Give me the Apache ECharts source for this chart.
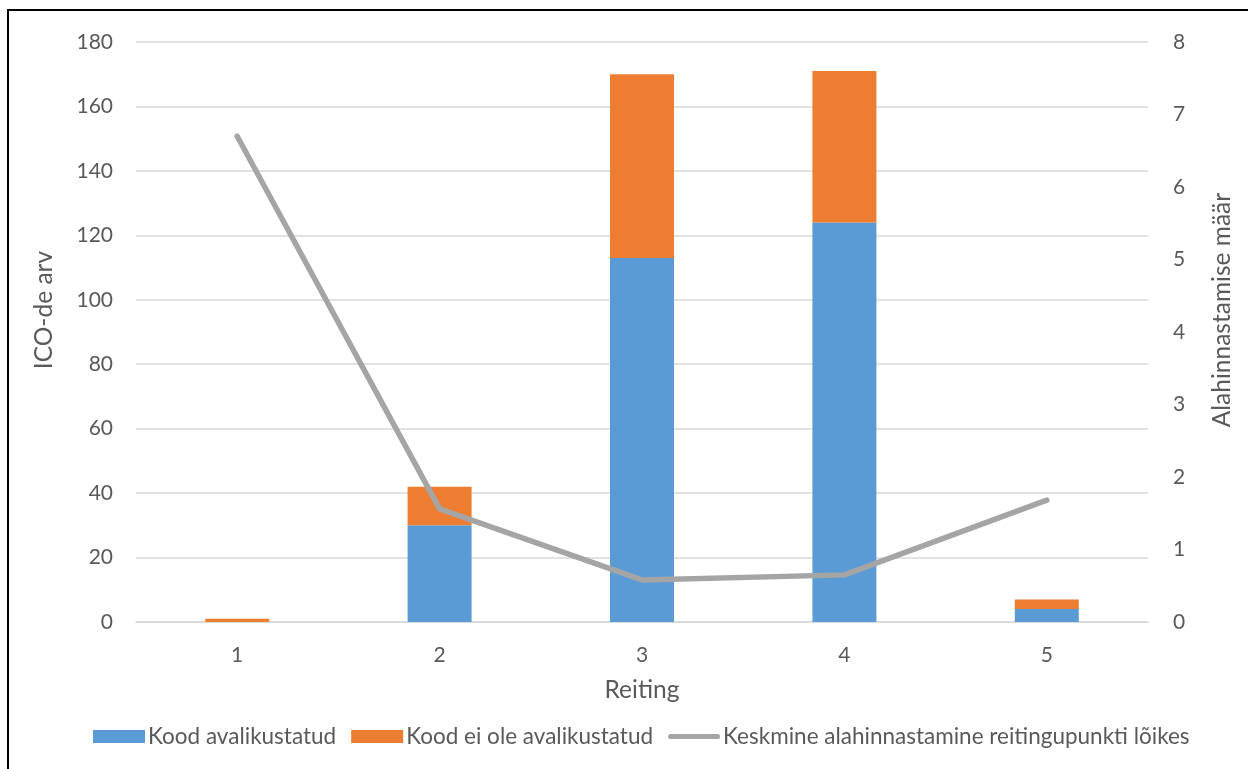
<!DOCTYPE html>
<html>
<head>
<meta charset="utf-8">
<script src="https://cdn.jsdelivr.net/npm/echarts@6/dist/echarts.min.js"></script>
<style>
  html, body { margin: 0; padding: 0; background: #fff; }
  #chart { width: 1248px; height: 769px; }
</style>
</head>
<body>
<div id="chart"></div>
<script>
// Ratings and counts of ICOs per rating
const categories = ['1', '2', '3', '4', '5'];
const codePublished = [0, 30, 113, 124, 4];
const codeNotPublished = [1, 12, 57, 47, 3];
const avgUnderpricing = [6.70, 1.56, 0.58, 0.65, 1.68];

const leftTicks = { min: 0, max: 180, interval: 20 };
const rightTicks = { min: 0, max: 8, interval: 1 };

const FONT = 'Lato, "Open Sans", sans-serif';
const TEXT = '#595959';
const GRID = '#D9D9D9';
const LINE = '#A5A5A5';

// thick rounded bar used as the legend marker of the line series
const lineIcon = 'path://M0,0 M52,13 M2.5,4 L49.5,4 A2.5,2.5 0 0 1 49.5,9 L2.5,9 A2.5,2.5 0 0 1 2.5,4 Z';

const chart = echarts.init(document.getElementById('chart'), null, { renderer: 'canvas' });

chart.setOption({
  backgroundColor: '#fff',
  animation: false,
  textStyle: { fontFamily: FONT, color: TEXT },
  grid: { left: 136, right: 100, top: 42, bottom: 147, containLabel: false },
  legend: {
    bottom: 16,
    left: 88,
    itemWidth: 52,
    itemHeight: 13,
    itemGap: 15,
    textStyle: { fontFamily: FONT, fontSize: 22.5, color: TEXT, padding: [0, 0, 0, -2] },
    data: [
      { name: 'Kood avalikustatud', icon: 'rect' },
      { name: 'Kood ei ole avalikustatud', icon: 'rect' },
      { name: 'Keskmine alahinnastamine reitingupunkti lõikes',
        icon: lineIcon,
        itemStyle: { color: LINE },
        lineStyle: { opacity: 0 } }
    ]
  },
  xAxis: {
    type: 'category',
    data: categories,
    name: 'Reiting',
    nameLocation: 'middle',
    nameGap: 56,
    nameTextStyle: { fontFamily: FONT, fontSize: 24.5, color: TEXT },
    axisLine: { lineStyle: { color: GRID, width: 1.5 } },
    axisTick: { show: false },
    axisLabel: { fontFamily: FONT, fontSize: 21, color: TEXT, margin: 23 }
  },
  yAxis: [
    {
      type: 'value',
      min: leftTicks.min, max: leftTicks.max, interval: leftTicks.interval,
      name: 'ICO-de arv',
      nameLocation: 'middle',
      nameRotate: 90,
      nameGap: 79,
      nameTextStyle: { fontFamily: FONT, fontSize: 24.5, color: TEXT, padding: [0, 0, 0, 44] },
      axisLine: { show: false },
      axisTick: { show: false },
      axisLabel: { fontFamily: FONT, fontSize: 21, color: TEXT, margin: 23 },
      splitLine: { lineStyle: { color: GRID, width: 1.5 } }
    },
    {
      type: 'value',
      position: 'right',
      min: rightTicks.min, max: rightTicks.max, interval: rightTicks.interval,
      name: 'Alahinnastamise määr',
      nameLocation: 'middle',
      nameRotate: 90,
      nameGap: 62,
      nameTextStyle: { fontFamily: FONT, fontSize: 24.5, color: TEXT, padding: [0, 0, 0, 44] },
      axisLine: { show: false },
      axisTick: { show: false },
      axisLabel: { fontFamily: FONT, fontSize: 21, color: TEXT, margin: 25 },
      splitLine: { show: false }
    }
  ],
  series: [
    {
      name: 'Kood avalikustatud',
      type: 'bar',
      stack: 'ico',
      barWidth: 64,
      itemStyle: { color: '#5B9BD5' },
      data: codePublished
    },
    {
      name: 'Kood ei ole avalikustatud',
      type: 'bar',
      stack: 'ico',
      barWidth: 64,
      itemStyle: { color: '#ED7D31' },
      data: codeNotPublished
    },
    {
      name: 'Keskmine alahinnastamine reitingupunkti lõikes',
      type: 'line',
      yAxisIndex: 1,
      symbol: 'none',
      smooth: false,
      itemStyle: { color: LINE },
      lineStyle: { color: LINE, width: 5.5, cap: 'round', join: 'round' },
      data: avgUnderpricing,
      z: 5
    }
  ],
  graphic: [
    {
      type: 'rect',
      shape: { x: 8, y: 10, width: 1260, height: 800 },
      style: { fill: 'none', stroke: '#000', lineWidth: 2 },
      silent: true
    }
  ]
});
</script>
</body>
</html>
